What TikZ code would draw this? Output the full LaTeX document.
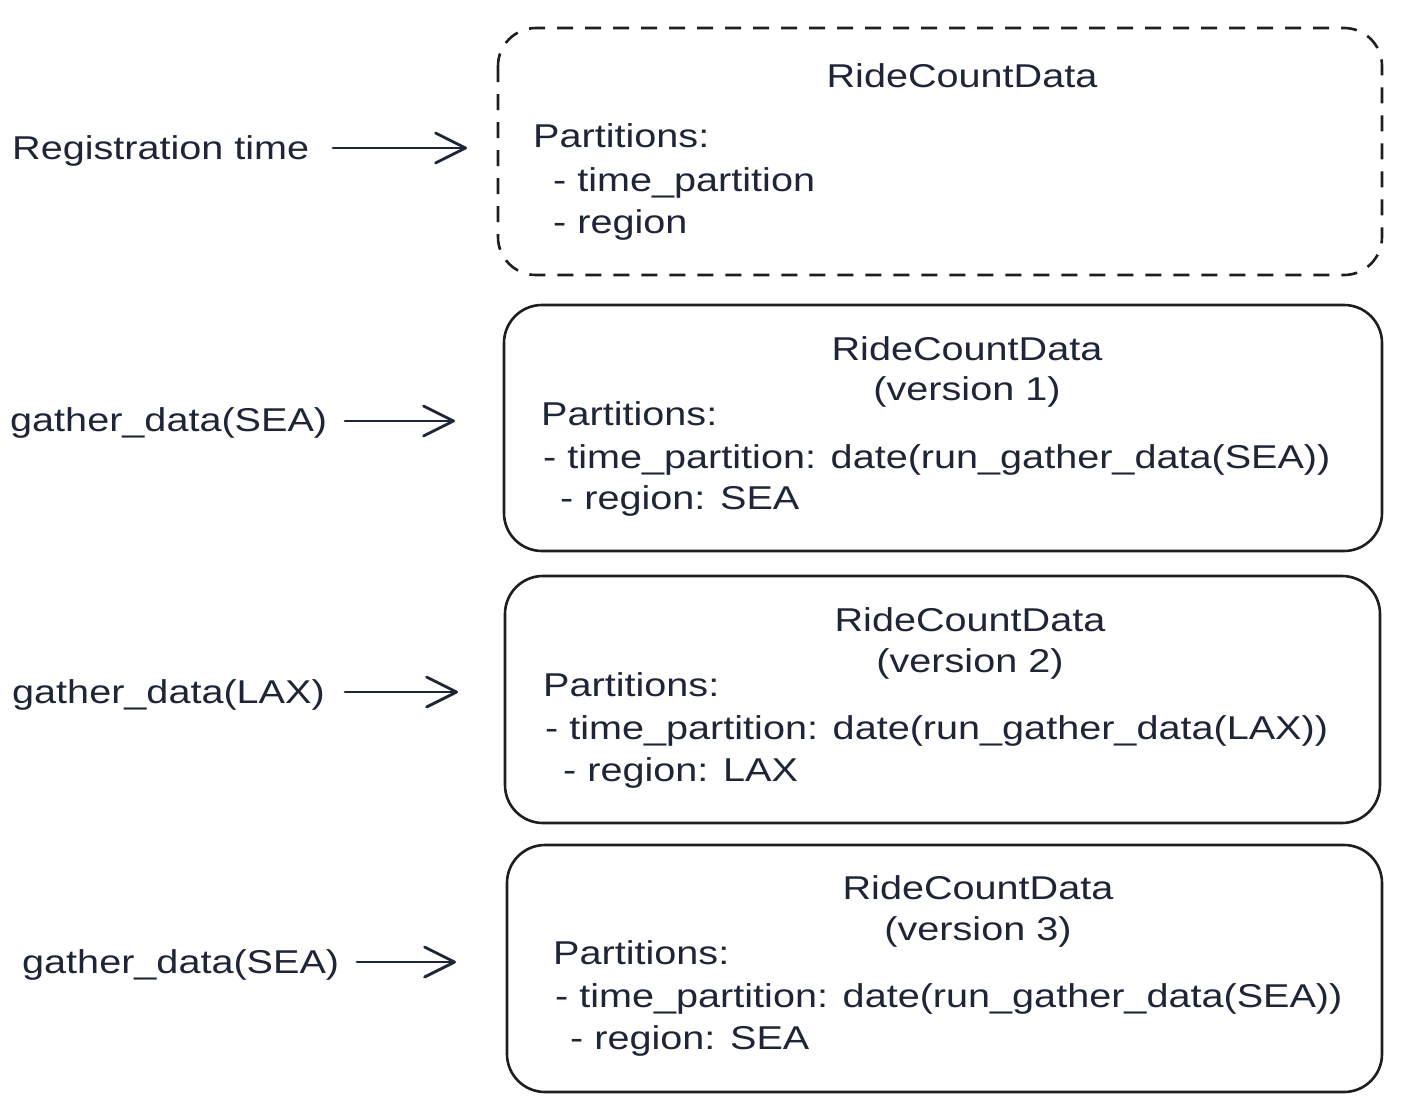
\documentclass[tikz,border=0pt]{standalone}
\usepackage{fontspec}
\setmainfont{Liberation Sans}[FakeStretch=1.2]
\usetikzlibrary{arrows.meta}
\definecolor{ink}{HTML}{1E2536}
\definecolor{boxline}{HTML}{1E1E1E}
\begin{document}
\begin{tikzpicture}[x=1pt,y=-1pt,
  txt/.style={inner sep=0pt, text=ink, font=\fontsize{33}{38}\selectfont},
  lbl/.style={txt, anchor=base west},
  ttl/.style={txt, anchor=base},
  boxstyle/.style={draw=boxline, line width=2.6pt, rounded corners=38pt},
  dashbox/.style={boxstyle, dash pattern=on 16pt off 12pt},
  arr/.style={draw=ink, line width=2.8pt, line cap=round,
    -{Straight Barb[length=30pt, width=30pt, line width=2.8pt, round]}}
]
\useasboundingbox (0,0) rectangle (1414,1100);

% boxes
\draw[dashbox] (498,28) rectangle (1382,275);
\draw[boxstyle] (504,305) rectangle (1382,551);
\draw[boxstyle] (505,576) rectangle (1380,823);
\draw[boxstyle] (507,845) rectangle (1382,1092);

% box 1
\node[ttl] (t1) at (962,87) {RideCountData};
\node[lbl] (p1) at (533,147) {Partitions:};
\node[lbl] (a1) at (553,191) {- time\_partition};
\node[lbl] (b1) at (553,233) {- region};

% box 2
\node[ttl] (t2) at (967,360) {RideCountData};
\node[ttl] (v2) at (967,400) {(version 1)};
\node[lbl] (p2) at (541,425) {Partitions:};
\node[lbl] (a2) at (543,468) {- time\_partition: date(run\_gather\_data(SEA))};
\node[lbl] (b2) at (560,509) {- region: SEA};

% box 3
\node[ttl] (t3) at (970,631) {RideCountData};
\node[ttl] (v3) at (970,672) {(version 2)};
\node[lbl] (p3) at (543,696) {Partitions:};
\node[lbl] (a3) at (545,739) {- time\_partition: date(run\_gather\_data(LAX))};
\node[lbl] (b3) at (563,781) {- region: LAX};

% box 4
\node[ttl] (t4) at (978,899) {RideCountData};
\node[ttl] (v4) at (978,940) {(version 3)};
\node[lbl] (p4) at (553,964) {Partitions:};
\node[lbl] (a4) at (555,1007) {- time\_partition: date(run\_gather\_data(SEA))};
\node[lbl] (b4) at (570,1049) {- region: SEA};

% left labels
\node[lbl] (l1) at (12,159) {Registration time};
\node[lbl] (l2) at (10,431) {gather\_data(SEA)};
\node[lbl] (l3) at (12,703) {gather\_data(LAX)};
\node[lbl] (l4) at (22,973) {gather\_data(SEA)};

% arrows
\coordinate (s1) at (333,148); \coordinate (e1) at (467,148);
\coordinate (s2) at (345,421); \coordinate (e2) at (455,421);
\coordinate (s3) at (345,692); \coordinate (e3) at (458,692);
\coordinate (s4) at (357,962); \coordinate (e4) at (456,962);
\draw[arr] (s1) -- (e1);
\draw[arr] (s2) -- (e2);
\draw[arr] (s3) -- (e3);
\draw[arr] (s4) -- (e4);
\end{tikzpicture}
\end{document}
